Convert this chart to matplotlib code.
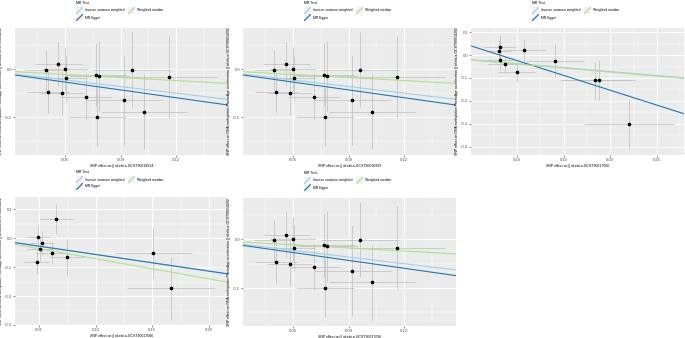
import matplotlib
matplotlib.use("Agg")
import matplotlib.pyplot as plt
import numpy as np

plt.rcParams['font.family'] = ['Liberation Sans', 'DejaVu Sans']

# ---------------- data ----------------
# Panel A (also used for panels B and E, which show the same SNPs)
a_bx = [0.0497, 0.0564, 0.0600, 0.0604, 0.0510, 0.0582, 0.0714, 0.0768, 0.0786, 0.0773, 0.0921, 0.0962, 0.1027, 0.1160]
a_by = [-0.002, 0.010, 0.000, -0.018, -0.047, -0.050, -0.057, -0.012, -0.0145, -0.100, -0.064, -0.001, -0.088, -0.017]
a_sx = [0.011, 0.0126, 0.0126, 0.0114, 0.0114, 0.012, 0.014, 0.016, 0.016, 0.0156, 0.021, 0.021, 0.023, 0.026]
a_sy = [0.042, 0.046, 0.045, 0.048, 0.043, 0.046, 0.048, 0.065, 0.073, 0.060, 0.093, 0.077, 0.077, 0.085]
a_lines = {"Inverse variance weighted": (-0.4565, 0.0048),
           "MR Egger": (-0.540, 0.0054),
           "Weighted median": (-0.2104, 0.0014)}

# Panel C
c_bx = [0.0814, 0.0804, 0.0814, 0.0868, 0.0996, 0.108, 0.1407, 0.184, 0.188, 0.220]
c_by = [0.0355, 0.018, -0.020, -0.040, -0.072, 0.021, -0.0256, -0.111, -0.109, -0.3026]
c_sx = [0.017, 0.013, 0.014, 0.019, 0.020, 0.023, 0.031, 0.038, 0.039, 0.048]
c_sy = [0.050, 0.048, 0.047, 0.040, 0.044, 0.051, 0.072, 0.080, 0.089, 0.107]
c_lines = {"Inverse variance weighted": (-0.3475, -0.0024),
           "MR Egger": (-1.2966, 0.1057),
           "Weighted median": (-0.3535, -0.0037)}

# Panel D
d_bx = [0.0491, 0.0524, 0.0506, 0.0476, 0.065, 0.0609, 0.0747, 0.1509, 0.1668]
d_by = [0.0058, -0.015, -0.037, -0.082, 0.067, -0.051, -0.065, -0.051, -0.1727]
d_sx = [0.0103, 0.0103, 0.012, 0.011, 0.0144, 0.014, 0.015, 0.034, 0.039]
d_sy = [0.039, 0.042, 0.043, 0.042, 0.053, 0.039, 0.063, 0.088, 0.108]
d_lines = {"Inverse variance weighted": (-0.5719, 0.0013),
           "MR Egger": (-0.575, 0.0015),
           "Weighted median": (-0.6955, -0.0011)}

ylabel = "SNP effect on DNA methylation PhenoAge acceleration || id:ebi-a-GCST90014292"
xlabels = ["SNP effect on || id:ebi-a-GCST90018914",
           "SNP effect on || id:ebi-a-GCST90016933",
           "SNP effect on || id:ebi-a-GCST90017000",
           "SNP effect on || id:ebi-a-GCST90017066",
           "SNP effect on || id:ebi-a-GCST90017096"]

a_xticks = [0.06, 0.09, 0.12]
a_yticks = [-0.1, 0.0]
c_xticks = [0.10, 0.15, 0.20, 0.25]
c_yticks = [-0.4, -0.3, -0.2, -0.1, 0.0, 0.1]
d_xticks = [0.05, 0.10, 0.15, 0.20]
d_yticks = [-0.3, -0.2, -0.1, 0.0, 0.1]

method_colors = {"Inverse variance weighted": "#A6CEE3",
                 "MR Egger": "#1F78B4",
                 "Weighted median": "#B2DF8A"}

W, H = 685, 338
fig = plt.figure(figsize=(W / 100, H / 100), dpi=100)
fig.patch.set_facecolor("white")


def px_axes(x0, y0, x1, y1, **kw):
    return fig.add_axes([x0 / W, 1 - y1 / H, (x1 - x0) / W, (y1 - y0) / H], **kw)


FS_TICK = 3.0
FS_LAB = 2.5
FS_LEG = 2.4


def panel(x0, y0, x1, y1, bx, by, sx, sy, lines, xlim, ylim, xticks, yticks,
          xfmt, yfmt, xlabel):
    ax = px_axes(x0, y0, x1, y1)
    ax.set_facecolor("#EBEBEB")
    for s in ax.spines.values():
        s.set_visible(False)
    ax.set_xlim(*xlim)
    ax.set_ylim(*ylim)
    ax.set_xticks(xticks)
    ax.set_yticks(yticks)
    dx = xticks[1] - xticks[0]
    dy = yticks[1] - yticks[0]
    xm = np.arange(xticks[0] - 3 * dx / 2, xlim[1], dx)
    ym = np.arange(yticks[0] - 5 * dy - dy / 2, ylim[1], dy)
    ax.set_xticks(xm[(xm > xlim[0]) & (xm < xlim[1])], minor=True)
    ax.set_yticks(ym[(ym > ylim[0]) & (ym < ylim[1])], minor=True)
    ax.grid(which="major", color="white", linewidth=0.7)
    ax.grid(which="minor", color="white", linewidth=0.35)
    ax.set_axisbelow(True)
    ax.tick_params(which="major", length=1.3, width=0.4, color="#333333",
                   labelsize=FS_TICK, labelcolor="#4D4D4D", pad=0.8)
    ax.tick_params(which="minor", length=0)
    ax.set_xticklabels([xfmt.format(v) for v in xticks])
    ax.set_yticklabels([yfmt.format(v) for v in yticks])
    bx = np.array(bx); by = np.array(by); sx = np.array(sx); sy = np.array(sy)
    ax.vlines(bx, by - sy, by + sy, color="#BEBEBE", linewidth=0.5, zorder=2)
    ax.hlines(by, bx - sx, bx + sx, color="#BEBEBE", linewidth=0.5, zorder=2)
    xs = np.array(xlim)
    for name in ["Inverse variance weighted", "MR Egger", "Weighted median"]:
        b, a = lines[name]
        ax.plot(xs, a + b * xs, color=method_colors[name], linewidth=0.8, zorder=3)
    ax.plot(bx, by, "o", color="black", markersize=1.6, zorder=4)
    ax.set_xlabel(xlabel, fontsize=FS_LAB, labelpad=1.2)
    ax.set_ylabel(ylabel, fontsize=FS_LAB, labelpad=1.2)
    # legend
    lx = x0 + 61
    ly = y0 - 28
    fig.text(lx / W, 1 - (ly + 3) / H, "MR Test", fontsize=FS_LAB, va="center", ha="left")
    keys = [("Inverse variance weighted", lx, ly + 7),
            ("MR Egger", lx, ly + 14),
            ("Weighted median", lx + 52, ly + 7)]
    for name, kx, ky in keys:
        kax = px_axes(kx, ky, kx + 7, ky + 7)
        kax.set_facecolor("#F2F2F2")
        kax.set_xlim(0, 1); kax.set_ylim(0, 1)
        kax.plot([0, 1], [0, 1], color=method_colors[name], linewidth=0.9)
        kax.set_xticks([]); kax.set_yticks([])
        for s in kax.spines.values():
            s.set_visible(False)
        fig.text((kx + 9) / W, 1 - (ky + 3.5) / H, name, fontsize=FS_LEG,
                 va="center", ha="left")
    return ax


a_xlim = (0.033, 0.148)
a_ylim = (-0.178, 0.085)

panel(15, 28, 228, 155, a_bx, a_by, a_sx, a_sy, a_lines, a_xlim, a_ylim,
      a_xticks, a_yticks, "{:.2f}", "{:.1f}", xlabels[0])
panel(243, 28, 456, 155, a_bx, a_by, a_sx, a_sy, a_lines, a_xlim, a_ylim,
      a_xticks, a_yticks, "{:.2f}", "{:.1f}", xlabels[1])
panel(471, 28, 684, 155, c_bx, c_by, c_sx, c_sy, c_lines, (0.0507, 0.279),
      (-0.436, 0.118), c_xticks, c_yticks, "{:.2f}", "{:.1f}", xlabels[2])
panel(15, 197, 228, 325, d_bx, d_by, d_sx, d_sy, d_lines, (0.0285, 0.217),
      (-0.30, 0.143), d_xticks, d_yticks, "{:.2f}", "{:.1f}", xlabels[3])
panel(243, 198, 456, 326, a_bx, a_by, a_sx, a_sy, a_lines, a_xlim, a_ylim,
      a_xticks, a_yticks, "{:.2f}", "{:.1f}", xlabels[4])

fig.savefig("out.png", dpi=100, facecolor="white")
